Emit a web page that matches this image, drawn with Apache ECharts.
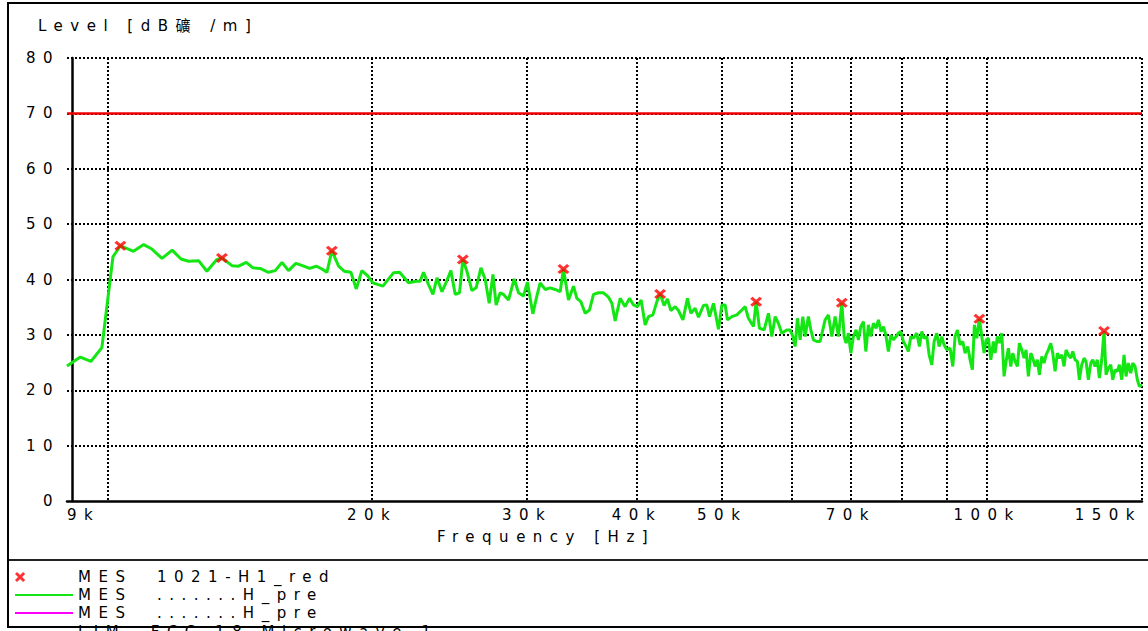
<!DOCTYPE html>
<html><head><meta charset="utf-8">
<script src="https://cdn.jsdelivr.net/npm/echarts@6/dist/echarts.min.js"></script>
<style>
html,body{margin:0;padding:0;background:#fff;}
#chart{width:1148px;height:631px;}
#chart text{letter-spacing:7.5px;white-space:pre;}
</style></head><body><div id="chart"></div>
<script>
// Measured trace (frequency in kHz, level in dBµV/m)
const traceFreqKHz = [9.0,9.32,9.58,9.86,10.15,10.35,10.71,11.0,11.24,11.54,11.85,12.13,12.37,12.70,12.98,13.32,13.50,13.86,14.10,14.39,14.64,14.92,15.25,15.52,15.80,16.07,16.38,16.67,16.98,17.28,17.54,17.77,18.0,18.32,18.59,18.92,19.19,19.47,19.76,20.04,20.57,21.15,21.49,22.00,22.45,22.68,22.88,23.18,23.45,23.70,24.01,24.22,24.58,24.86,25.14,25.36,25.63,25.97,26.26,26.59,26.89,27.17,27.44,27.67,27.96,28.21,28.58,29.01,29.34,29.72,30.03,30.46,30.78,31.05,31.46,31.87,32.29,32.72,33.0,33.44,33.88,34.18,34.54,34.93,35.33,35.70,36.17,36.64,37.13,37.46,37.78,38.28,38.78,39.22,39.64,40.05,40.44,40.87,41.22,41.70,42.14,42.50,42.95,43.32,43.71,44.21,44.59,45.11,45.65,46.06,46.58,46.99,47.60,48.03,48.36,48.87,49.51,49.95,50.39,50.69,51.28,51.95,52.64,53.09,53.55,54.26,54.64,55.12,55.80,56.43,56.93,57.43,57.92,58.44,59.21,59.73,60.15,60.51,60.88,61.31,61.74,62.12,62.65,63.05,63.48,64.05,64.60,65.45,66.02,66.61,67.19,67.77,68.38,68.79,69.15,69.57,70.01,70.48,70.98,71.41,71.86,72.35,72.81,73.30,73.77,74.27,74.80,75.25,75.78,76.24,76.72,77.24,77.73,78.26,78.82,79.29,79.79,80.34,80.91,81.39,81.91,82.47,83.20,83.77,84.30,84.81,85.41,85.93,86.53,87.06,87.67,88.20,88.83,89.36,90.0,90.78,91.42,91.97,92.53,93.18,93.84,94.41,95.08,95.65,96.23,96.74,97.35,98.01,98.63,99.22,99.74,100.35,100.98,101.67,102.12,102.74,103.28,103.93,104.55,105.10,105.74,106.40,106.96,107.61,108.26,108.82,109.51,110.17,110.75,111.42,112.12,112.71,113.39,114.07,114.67,115.39,116.09,116.70,117.40,118.14,118.76,119.48,120.20,120.83,121.59,122.33,122.97,123.71,124.49,125.14,125.90,126.66,127.32,128.12,128.90,129.57,130.36,131.18,131.87,132.66,133.46,134.16,135.01,135.82,136.53,137.36,138.22,138.95,139.79,140.63,141.37,142.26,143.12,143.87,144.74,145.65,146.41,147.30,148.19,148.96,150.0];
const traceLevel = [24.4,26.0,25.2,27.7,44.1,46.1,45.1,46.3,45.5,43.8,45.3,43.7,43.3,43.4,41.5,43.6,43.9,42.5,42.4,43.1,42.1,42.0,41.3,41.6,43.1,41.6,42.9,42.5,42.0,42.4,41.9,41.3,45.2,42.4,41.5,41.3,38.3,41.6,40.7,39.4,38.8,41.2,41.3,39.4,39.7,39.7,41.3,39.1,37.3,40.3,37.8,39.1,41.6,37.3,37.6,43.6,41.5,38.0,38.5,42.1,40.0,35.7,40.9,35.4,37.6,37.3,36.3,40.1,37.6,37.0,39.5,33.8,37.0,39.4,38.2,38.5,38.2,37.8,41.9,36.3,38.8,36.6,36.0,33.9,34.5,37.3,37.6,37.6,36.8,35.7,32.5,36.6,35.1,36.6,35.4,35.1,36.3,31.8,33.3,33.6,36.0,37.4,35.3,36.5,34.4,35.1,34.4,32.7,36.6,33.9,34.8,33.2,35.3,35.4,33.3,35.7,31.0,35.4,35.4,32.7,33.3,33.6,34.5,35.1,33.0,31.5,36.0,31.2,30.9,33.9,29.7,33.3,32.1,30.3,30.9,30.9,29.7,27.9,33.0,29.1,33.3,29.7,33.3,30.9,29.1,28.8,28.8,32.7,33.6,29.7,33.3,29.7,35.8,29.7,28.5,30.3,26.7,29.7,30.9,29.1,31.5,32.4,27.0,31.8,29.7,32.1,31.2,32.7,30.6,31.5,30.0,27.0,30.0,29.1,29.7,30.3,30.6,28.8,27.9,27.0,29.7,29.4,30.3,27.9,30.6,29.4,29.7,26.4,24.6,28.8,30.3,27.9,29.7,28.2,27.3,27.6,24.3,29.7,30.9,28.2,28.8,26.7,27.9,25.5,23.7,31.8,29.4,32.9,29.7,26.7,29.1,29.4,25.5,28.8,26.7,29.7,28.5,30.3,22.5,25.2,27.6,24.3,26.7,25.2,24.3,28.5,27.3,25.8,27.3,22.5,26.7,25.8,24.3,25.5,22.8,26.1,24.9,26.4,27.3,28.5,26.7,23.4,26.7,25.8,26.4,24.3,27.3,26.4,25.8,27.0,25.5,25.2,21.9,24.6,25.8,25.2,21.9,24.9,25.5,24.3,25.5,22.2,25.5,30.7,22.8,24.0,24.6,21.9,23.7,23.4,24.6,21.9,26.4,22.5,24.9,23.1,24.9,24.3,21.9,20.7,21.0];
const peakFreqKHz = [10.35,13.50,18.0,25.36,33.0,42.50,54.64,68.38,98.01,135.82];
const peakLevel = [46.1,43.9,45.2,43.6,41.9,37.4,36.0,35.8,32.9,30.7];
const limitFreqKHz = [9,150];
const limitLevel = [70,70];
const magentaFreqKHz = [];
const magentaLevel = [];
const xGridValues = [10,20,30,40,50,60,70,80,90,100,150];
const xLabelValues = [9,20,30,40,50,70,100,150];
const seriesNames = ['MES  1021-H1_red','MES  .......H_pre','MES  .......H_pre ','LIM  FCC 18 Microwave 1'];
const yTitle = 'Level [dB礦 /m]';
const xTitle = 'Frequency [Hz]';

const zip = (a, b) => a.map((v, i) => [v, b[i]]);
const FONT = "'DejaVu Sans','Noto Sans CJK SC',sans-serif";
const xMark = 'path://M0,2L2,0L5,3L8,0L10,2L7,5L10,8L8,10L5,7L2,10L0,8L3,5Z';
const xMarkLegend = 'path://M0,2L2,0L5,3L8,0L10,2L7,5L10,8L8,10L5,7L2,10L0,8L3,5ZM57,5L57.01,5L57,5.01Z';
const lineIcon = 'path://M0,0L58,0L58,2L0,2Z';
const dots = {color:'#000', width:2, type:[2,2]};
const legendBase = {
  orient:'vertical', left:15, padding:0, itemGap:0,
  itemWidth:58, itemHeight:12, symbolKeepAspect:true, selectedMode:false,
  textStyle:{fontSize:15, color:'#000', lineHeight:18, fontFamily:FONT}
};

const chart = echarts.init(document.getElementById('chart'), null, {renderer:'svg'});
chart.setOption({
  animation:false,
  backgroundColor:'#fff',
  textStyle:{fontFamily:FONT},
  title:[
    {text:yTitle, left:38, top:18, padding:0, textStyle:{fontSize:15, fontWeight:'normal', color:'#000', fontFamily:FONT}},
    {text:xTitle, left:437, top:529, padding:0, textStyle:{fontSize:15, fontWeight:'normal', color:'#000', fontFamily:FONT}}
  ],
  graphic:[
    {type:'rect', silent:true, z:100, shape:{x:8, y:3, width:1150, height:624}, style:{fill:'none', stroke:'#000', lineWidth:2}},
    {type:'line', silent:true, shape:{x1:8, y1:560, x2:1148, y2:560}, style:{stroke:'#222', lineWidth:2}}
  ],
  grid:{left:67, right:6, top:58, bottom:130, containLabel:false},
  legend:[
    Object.assign({}, legendBase, {top:568, data:[
      {name:seriesNames[0], icon:xMarkLegend, itemStyle:{color:'#ff0000'}},
      {name:seriesNames[1], icon:lineIcon, itemStyle:{color:'#14e614'}},
      {name:seriesNames[2], icon:lineIcon, itemStyle:{color:'#ff00ff'}}
    ]}),
    Object.assign({}, legendBase, {top:623, data:[
      {name:seriesNames[3], icon:lineIcon, itemStyle:{color:'#ff8080'}}
    ]})
  ],
  xAxis:{
    type:'log', logBase:10, min:9, max:150, offset:2,
    axisLine:{show:true, lineStyle:{color:'#000', width:2.5}},
    axisTick:{show:false, customValues:xGridValues},
    axisLabel:{customValues:xLabelValues, formatter:v => Math.round(v) + 'k', margin:4,
      fontSize:15, color:'#000', fontFamily:FONT, alignMinLabel:'left', alignMaxLabel:'right'},
    splitLine:{show:true, lineStyle:dots}
  },
  yAxis:[
    {type:'value', min:0, max:80, interval:10,
      axisLine:{show:false}, axisTick:{show:false},
      axisLabel:{fontSize:15, color:'#000', margin:7, fontFamily:FONT},
      splitLine:{show:true, showMinLine:false, lineStyle:dots}},
    {type:'value', min:0, max:80, interval:10, position:'left', offset:-5,
      axisLine:{show:true, lineStyle:{color:'#000', width:2.5}}, axisTick:{show:false},
      axisLabel:{show:false}, splitLine:{show:false}}
  ],
  series:[
    {name:seriesNames[0], type:'scatter', data:zip(peakFreqKHz, peakLevel), symbol:xMark, symbolSize:[12,10],
      itemStyle:{color:'#ff0000'}, z:6},
    {name:seriesNames[1], type:'line', data:zip(traceFreqKHz, traceLevel), symbol:'none', showSymbol:false,
      lineStyle:{color:'#14e614', width:3}, itemStyle:{color:'#14e614'}, z:4},
    {name:seriesNames[2], type:'line', data:zip(magentaFreqKHz, magentaLevel), symbol:'none', showSymbol:false,
      lineStyle:{color:'#ff00ff', width:2}, itemStyle:{color:'#ff00ff'}, z:3},
    {name:seriesNames[3], type:'line', data:zip(limitFreqKHz, limitLevel), symbol:'none', showSymbol:false,
      lineStyle:{color:'#ee0000', width:2.5}, itemStyle:{color:'#ff8080'}, z:2}
  ]
});
</script></body></html>
